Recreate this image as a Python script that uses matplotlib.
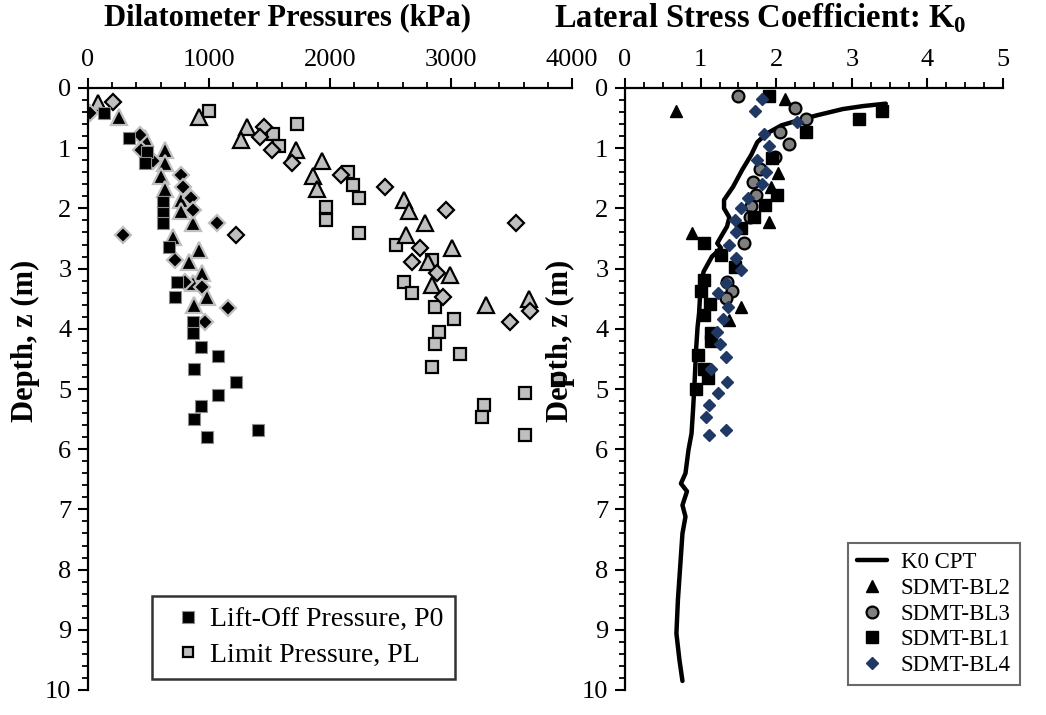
import matplotlib
matplotlib.use("Agg")
import matplotlib.pyplot as plt
from matplotlib.ticker import MultipleLocator

plt.rcParams['font.family'] = ['Liberation Serif', 'DejaVu Serif']
plt.rcParams['mathtext.fontset'] = 'custom'
plt.rcParams['mathtext.rm'] = 'Liberation Serif'
plt.rcParams['mathtext.bf'] = 'Liberation Serif:bold'

# ---------------- Left panel data (kPa vs depth m) ----------------
p0_sq_depth = [0.42, 0.83, 1.06, 1.25, 1.90, 2.08, 2.24, 2.64, 3.22, 3.47, 3.88, 4.07,
               4.30, 4.46, 4.67, 4.88, 5.10, 5.29, 5.50, 5.68, 5.80]
p0_sq = [130, 340, 487, 470, 620, 620, 620, 670, 734, 718, 865, 865,
         930, 1078, 880, 1226, 1078, 930, 880, 1406, 980]

p0_tri_depth = [0.48, 0.83, 1.03, 1.25, 1.47, 1.67, 1.86, 2.05, 2.25, 2.47, 2.69, 2.89,
                3.08, 3.24, 3.47, 3.60]
p0_tri = [259, 472, 636, 636, 600, 636, 767, 767, 865, 700, 914, 832,
          945, 865, 980, 880]

p0_dia_depth = [0.42, 0.78, 1.03, 1.22, 1.45, 1.64, 1.83, 2.03, 2.25, 2.44, 2.86, 3.22,
                3.30, 3.66, 3.88]
p0_dia = [13, 430, 440, 538, 767, 783, 849, 865, 1062, 292, 718, 799,
          945, 1160, 963]

pl_tri_depth = [0.25, 0.48, 0.64, 0.86, 1.03, 1.22, 1.47, 1.67, 1.86, 2.05, 2.25, 2.44,
                2.66, 2.89, 3.11, 3.27, 3.50, 3.60]
pl_tri = [80, 914, 1314, 1265, 1722, 1938, 1860, 1896, 2612, 2655, 2789, 2626,
          3011, 2809, 2994, 2842, 3645, 3292]

pl_dia_depth = [0.23, 0.64, 0.81, 1.03, 1.24, 1.45, 1.65, 2.03, 2.25, 2.44, 2.66, 2.89,
                3.08, 3.47, 3.70, 3.88]
pl_dia = [209, 1456, 1423, 1518, 1684, 2087, 2451, 2955, 3540, 1220, 2747, 2675,
          2883, 2938, 3650, 3490]

pl_sq_depth = [0.39, 0.60, 0.76, 0.97, 1.39, 1.61, 1.82, 1.98, 2.19, 2.41, 2.61, 2.86,
               3.22, 3.41, 3.63, 3.84, 4.05, 4.25, 4.42, 4.63, 4.85, 5.06, 5.27, 5.46, 5.76]
pl_sq = [1000, 1729, 1532, 1581, 2151, 2192, 2236, 1966, 1966, 2236, 2543, 2842,
         2612, 2675, 2866, 3023, 2901, 2866, 3075, 2842, 3885, 3613, 3276, 3260, 3613]

# ---------------- Right panel data (K0 vs depth m) ----------------
cpt_depth = [0.26, 0.30, 0.35, 0.45, 0.53, 0.62, 0.76, 0.90, 1.11, 1.36, 1.64, 1.86,
             2.00, 2.15, 2.30, 2.47, 2.58, 2.66, 2.80, 3.05, 3.30, 3.74, 3.97, 4.35,
             4.90, 5.35, 5.74, 6.01, 6.40, 6.57, 6.70, 6.93, 7.12, 7.40, 7.95, 8.50,
             9.06, 9.50, 9.85]
cpt_k = [3.45, 3.15, 2.88, 2.55, 2.31, 2.07, 1.87, 1.75, 1.67, 1.55, 1.43, 1.31,
         1.31, 1.38, 1.35, 1.27, 1.22, 1.27, 1.15, 1.04, 1.00, 0.98, 0.96, 0.94,
         0.92, 0.90, 0.88, 0.84, 0.80, 0.74, 0.82, 0.76, 0.80, 0.76, 0.73, 0.70,
         0.68, 0.72, 0.76]

bl2_depth = [0.19, 0.39, 1.42, 1.64, 2.22, 2.41, 3.63, 3.85]
bl2 = [2.11, 0.68, 2.03, 1.93, 1.91, 0.89, 1.53, 1.37]

bl3_depth = [0.14, 0.34, 0.52, 0.73, 0.93, 1.15, 1.35, 1.56, 1.78, 1.96, 2.14, 2.58,
             3.22, 3.38, 3.49]
bl3 = [1.50, 2.25, 2.39, 2.05, 2.17, 1.99, 1.79, 1.69, 1.73, 1.67, 1.65, 1.57,
       1.35, 1.42, 1.33]

bl1_depth = [0.13, 0.38, 0.52, 0.73, 1.17, 1.78, 1.94, 2.14, 2.33, 2.58, 2.77, 2.97,
             3.19, 3.38, 3.58, 3.77, 4.07, 4.21, 4.44, 4.66, 4.82, 5.00]
bl1 = [1.91, 3.40, 3.10, 2.39, 1.95, 2.01, 1.85, 1.71, 1.53, 1.04, 1.27, 1.45,
       1.04, 1.00, 1.12, 1.04, 1.14, 1.14, 0.96, 1.04, 1.10, 0.94]

bl4_depth = [0.19, 0.39, 0.56, 0.76, 0.97, 1.20, 1.39, 1.59, 1.82, 2.00, 2.20, 2.40,
             2.61, 2.83, 3.03, 3.24, 3.41, 3.63, 3.84, 4.05, 4.25, 4.47, 4.67, 4.88,
             5.06, 5.27, 5.47, 5.68, 5.76]
bl4 = [1.81, 1.72, 2.27, 1.84, 1.90, 1.75, 1.87, 1.81, 1.63, 1.53, 1.45, 1.47,
       1.37, 1.47, 1.53, 1.33, 1.23, 1.36, 1.29, 1.22, 1.26, 1.33, 1.14, 1.35,
       1.23, 1.11, 1.07, 1.33, 1.11]

left_xticks = [0, 1000, 2000, 3000, 4000]
right_xticks = [0, 1, 2, 3, 4, 5]
depth_ticks = list(range(0, 11))

W, H = 1046, 715
fig = plt.figure(figsize=(W / 100, H / 100), dpi=100)

def px_axes(x0, x1, y0, y1):
    return fig.add_axes([x0 / W, 1 - y1 / H, (x1 - x0) / W, (y1 - y0) / H])

axL = px_axes(88, 572, 88, 690)
axR = px_axes(625, 1003, 88, 690)

GRAY = '#BFBFBF'

def style(ax, xmax, xminor, xticks, ylab_x):
    ax.set_ylim(10, 0)
    ax.set_xlim(0, xmax)
    ax.xaxis.set_ticks_position('top')
    ax.xaxis.set_label_position('top')
    ax.set_xticks(xticks)
    ax.set_yticks(depth_ticks)
    ax.xaxis.set_minor_locator(MultipleLocator(xminor))
    ax.yaxis.set_minor_locator(MultipleLocator(0.2))
    for s in ['right', 'bottom']:
        ax.spines[s].set_visible(False)
    for s in ['top', 'left']:
        ax.spines[s].set_linewidth(1.6)
    ax.tick_params(which='major', direction='out', length=7, width=1.5, labelsize=19, pad=5)
    ax.tick_params(which='minor', direction='out', length=4, width=1.3)
    ax.set_ylabel('Depth, z (m)', fontsize=22, fontweight='bold')
    ax.yaxis.set_label_coords(ylab_x, 0.58)

style(axL, 4000, 200, left_xticks, (40 - 88) / 484)
style(axR, 5, 0.25, right_xticks, (575 - 625) / 378)

# Left panel markers
axL.plot(pl_sq, pl_sq_depth, 's', ms=8, mfc=GRAY, mec='black', mew=1.6, ls='none')
axL.plot(pl_tri, pl_tri_depth, '^', ms=11, mfc=GRAY, mec='black', mew=1.6, ls='none')
axL.plot(pl_dia, pl_dia_depth, 'D', ms=8, mfc=GRAY, mec='black', mew=1.6, ls='none')
axL.plot(p0_tri, p0_tri_depth, '^', ms=11, mfc='black', mec=GRAY, mew=1.6, ls='none')
axL.plot(p0_dia, p0_dia_depth, 'D', ms=8, mfc='black', mec=GRAY, mew=1.6, ls='none')
hP0, = axL.plot(p0_sq, p0_sq_depth, 's', ms=9, mfc='black', mec='#8c8c8c', mew=0.8, ls='none')
hPL, = axL.plot([], [], 's', ms=7.5, mfc=GRAY, mec='black', mew=1.6, ls='none')

legL = axL.legend([hP0, hPL], ['Lift-Off Pressure, P0', 'Limit Pressure, PL'],
                  loc='lower left', bbox_to_anchor=(152 / W, 1 - 679 / H),
                  bbox_transform=fig.transFigure, fontsize=20,
                  frameon=True, fancybox=False, edgecolor='black', handlelength=1.8,
                  handletextpad=-0.1, labelspacing=0.35, borderpad=0.4, borderaxespad=0)
legL.get_frame().set_linewidth(1.8)

# Right panel
axR.plot(cpt_k, cpt_depth, '-', color='black', lw=3.2, label='K0 CPT',
         solid_capstyle='round', solid_joinstyle='round')
axR.plot(bl2, bl2_depth, '^', ms=9, color='black', ls='none', label='SDMT-BL2')
axR.plot(bl3, bl3_depth, 'o', ms=8.5, mfc='#7f7f7f', mec='black', mew=1.6, ls='none', label='SDMT-BL3')
axR.plot(bl1, bl1_depth, 's', ms=8.5, color='black', ls='none', label='SDMT-BL1')
axR.plot(bl4, bl4_depth, 'D', ms=6.5, color='#1F3864', ls='none', label='SDMT-BL4')

legR = axR.legend(loc='lower right', bbox_to_anchor=(1020 / W, 1 - 685 / H),
                  bbox_transform=fig.transFigure, fontsize=16.5,
                  frameon=True, fancybox=False, edgecolor='#444444', handlelength=1.3,
                  handletextpad=0.6, labelspacing=0.2, borderpad=0.4, borderaxespad=0)
legR.get_frame().set_linewidth(1.5)

fig.text(287 / W, 1 - 18 / H, 'Dilatometer Pressures (kPa)', fontsize=22,
         fontweight='bold', ha='center', va='center')
fig.text(760 / W, 1 - 18 / H, r'Lateral Stress Coefficient: K$_\mathbf{0}$', fontsize=23.5,
         fontweight='bold', ha='center', va='center')

fig.savefig('out.png', dpi=100)
